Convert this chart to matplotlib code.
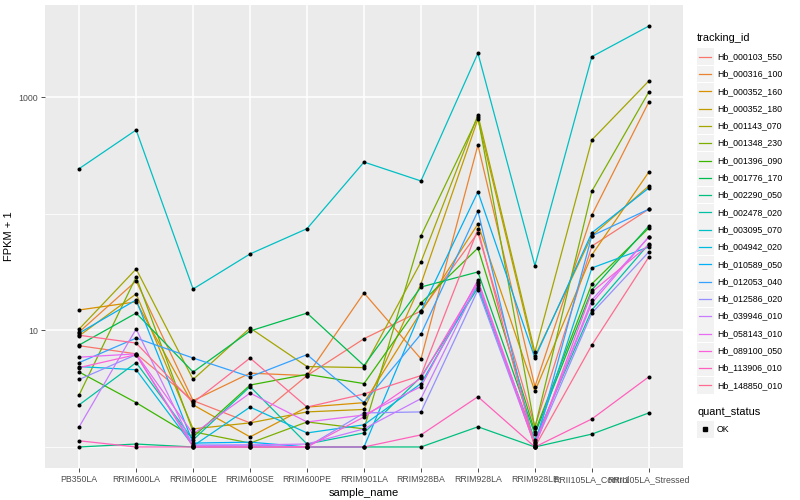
import matplotlib
matplotlib.use("Agg")
import matplotlib.pyplot as plt
from matplotlib.lines import Line2D
from matplotlib.patches import Rectangle

# sample names on the x axis
samples = ["PB350LA", "RRIM600LA", "RRIM600LE", "RRIM600SE", "RRIM600PE", "RRIM901LA",
           "RRIM928BA", "RRIM928LA", "RRIM928LE", "RRII105LA_Control", "RRII105LA_Stressed"]

tracking_ids = ["Hb_000103_550", "Hb_000316_100", "Hb_000352_160", "Hb_000352_180",
                "Hb_001143_070", "Hb_001348_230", "Hb_001396_090", "Hb_001776_170",
                "Hb_002290_050", "Hb_002478_020", "Hb_003095_070", "Hb_004942_020",
                "Hb_010589_050", "Hb_012053_040", "Hb_012586_020", "Hb_039946_010",
                "Hb_058143_010", "Hb_089100_050", "Hb_113906_010", "Hb_148850_010"]

# ggplot default hue palette for 20 levels
colors = ["#F8766D", "#EA8331", "#D89000", "#C09B00", "#A3A500", "#7CAE00", "#39B600",
          "#00BB4E", "#00BF7D", "#00C1A3", "#00BFC4", "#00BAE0", "#00B0F6", "#35A2FF",
          "#9590FF", "#C77CFF", "#E76BF3", "#FA62DB", "#FF62BC", "#FF6C90"]

# FPKM + 1 per gene, one value per sample
hb_000103_550 = [7.4, 6.3, 2.5, 1.61, 4.1, 8.5, 14.7, 69, 1.49, 53, 110]
hb_000316_100 = [9.7, 26.6, 2.5, 4.3, 4.1, 21.0, 5.7, 391, 3.3, 98, 915]
hb_000352_160 = [15.0, 17.6, 2.3, 1.22, 2.2, 2.4, 14.4, 82, 3.0, 44.5, 229]
hb_000352_180 = [9.0, 20.6, 1.43, 1.61, 2.0, 2.1, 25.1, 653, 6.0, 65, 174]
hb_001143_070 = [10.3, 33.7, 3.8, 10.5, 4.9, 4.8, 38.7, 708, 6.5, 432, 1386]
hb_001348_230 = [2.8, 28.8, 1.35, 1.08, 1.64, 1.43, 65, 680, 1.46, 157, 1114]
hb_001396_090 = [4.4, 2.4, 1.22, 3.4, 4.2, 3.5, 17.2, 51, 1.35, 25.1, 75.8]
hb_001776_170 = [7.5, 14.1, 4.4, 9.9, 14.1, 5.0, 23.6, 31.8, 1.29, 22.3, 78.9]
hb_002290_050 = [1.0, 1.06, 1.0, 1.0, 1.0, 1.0, 1.0, 1.49, 1.0, 1.29, 1.96]
hb_002478_020 = [2.3, 5.3, 1.15, 3.3, 1.06, 1.32, 4.0, 23.2, 1.15, 15.0, 55.2]
hb_003095_070 = [245, 526, 22.7, 45.4, 74.8, 279, 192, 2400, 36.0, 2240, 4100]
hb_004942_020 = [4.9, 4.6, 1.02, 2.2, 1.32, 1.55, 3.5, 24.6, 1.10, 34.4, 52.1]
hb_010589_050 = [9.5, 18.3, 1.08, 1.10, 1.0, 1.0, 14.7, 155, 5.8, 69, 167]
hb_012053_040 = [5.3, 8.6, 5.8, 4.0, 6.2, 2.4, 9.3, 106, 1.0, 65, 110]
hb_012586_020 = [3.8, 6.2, 1.04, 1.04, 1.0, 1.96, 2.0, 22.3, 1.04, 14.1, 47.2]
hb_039946_010 = [1.49, 10.3, 1.02, 1.04, 1.06, 1.43, 2.6, 25.6, 1.04, 18.3, 63.5]
hb_058143_010 = [5.9, 6.3, 1.29, 2.9, 1.64, 1.88, 3.3, 27.1, 1.08, 17.2, 63.5]
hb_089100_050 = [4.8, 6.2, 1.0, 1.0, 1.0, 1.81, 3.9, 26.1, 1.02, 21.4, 54.2]
hb_113906_010 = [1.13, 1.0, 1.0, 1.0, 1.0, 1.0, 1.27, 2.7, 1.0, 1.74, 4.0]
hb_148850_010 = [9.1, 7.8, 2.4, 5.8, 2.2, 2.85, 4.1, 74, 1.0, 7.5, 42.7]

series = [hb_000103_550, hb_000316_100, hb_000352_160, hb_000352_180, hb_001143_070,
          hb_001348_230, hb_001396_090, hb_001776_170, hb_002290_050, hb_002478_020,
          hb_003095_070, hb_004942_020, hb_010589_050, hb_012053_040, hb_012586_020,
          hb_039946_010, hb_058143_010, hb_089100_050, hb_113906_010, hb_148850_010]

plt.rcParams['font.family'] = ['Liberation Sans', 'DejaVu Sans']

fig = plt.figure(figsize=(8, 5), dpi=100)
ax = fig.add_axes([45 / 800, 1 - 468 / 500, (683 - 45) / 800, (468 - 5) / 500])
ax.set_facecolor("#EBEBEB")

x = list(range(len(samples)))
for vals, col in zip(series, colors):
    ax.plot(x, vals, color=col, lw=0.9, zorder=3)
for vals in series:
    ax.plot(x, vals, ls="none", marker="o", ms=2.9, mew=0, color="black", zorder=4)

ax.set_yscale("log")
ax.set_ylim(0.66, 6220)
ax.set_xlim(-0.6, len(samples) - 0.4)
ax.set_yticks([10, 1000])
ax.set_yticklabels(["10", "1000"])
ax.set_yticks([1, 100], minor=True)
ax.yaxis.set_minor_formatter(plt.NullFormatter())
ax.set_xticks(x)
ax.set_xticklabels(samples)

ax.grid(which="major", color="white", lw=1.1, zorder=1)
ax.grid(which="minor", axis="y", color="white", lw=0.55, zorder=1)
for s in ax.spines.values():
    s.set_visible(False)
ax.tick_params(which="major", length=3, width=0.6, color="#333333", labelcolor="#4D4D4D",
               labelsize=6.3, pad=2)
ax.tick_params(which="minor", length=0)

ax.set_xlabel("sample_name", fontsize=8, labelpad=3)
ax.set_ylabel("FPKM + 1", fontsize=8, labelpad=3)

# legend drawn by hand, ggplot style
fig.text(697 / 800, 1 - 38 / 500, "tracking_id", fontsize=7.9, va="center", ha="left")
for i, (tid, col) in enumerate(zip(tracking_ids, colors)):
    yc = 56.7 + i * 17.3
    fig.add_artist(Rectangle((697 / 800, 1 - (yc + 8.3) / 500), 16.6 / 800, 16.6 / 500,
                             transform=fig.transFigure, facecolor="#F2F2F2", edgecolor="none"))
    fig.add_artist(Line2D([699 / 800, 711 / 800], [1 - yc / 500, 1 - yc / 500],
                          transform=fig.transFigure, color=col, lw=0.9))
    fig.text(717 / 800, 1 - yc / 500, tid, fontsize=6.3, va="center", ha="left")

fig.text(697 / 800, 1 - 412 / 500, "quant_status", fontsize=7.9, va="center", ha="left")
fig.add_artist(Rectangle((697 / 800, 1 - 437.5 / 500), 16.6 / 800, 16.6 / 500,
                         transform=fig.transFigure, facecolor="#F2F2F2", edgecolor="none"))
fig.add_artist(Line2D([705 / 800], [1 - 429.2 / 500], transform=fig.transFigure,
                      ls="none", marker="s", ms=2.6, color="black"))
fig.text(717 / 800, 1 - 429.2 / 500, "OK", fontsize=6.3, va="center", ha="left")

fig.savefig("out.png", dpi=100, facecolor="white")
